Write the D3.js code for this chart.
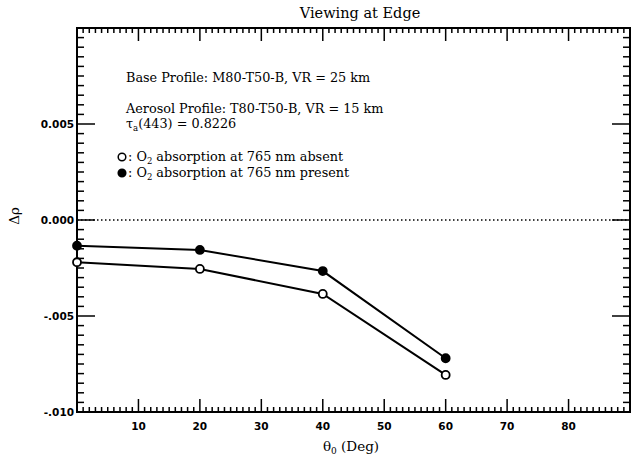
<!DOCTYPE html>
<html>
<head>
<meta charset="utf-8">
<script src="https://cdn.jsdelivr.net/npm/d3@7/dist/d3.min.js"></script>
<style>
  html, body { margin: 0; padding: 0; background: #fff; }
  svg { display: block; }
  text { font-family: "DejaVu Serif", "Liberation Serif", serif; fill: #000; }
  .tick-label { font-family: "DejaVu Sans", sans-serif; font-weight: bold; }
</style>
</head>
<body>
<svg id="chart" width="638" height="466"></svg>
<script>
// Solar zenith angle (deg)
const angles = [0, 20, 40, 60];
// Δρ without O2 absorption at 765 nm (open circles)
const absentValues = [-0.0022, -0.00255, -0.00385, -0.00807];
// Δρ with O2 absorption at 765 nm (filled circles)
const presentValues = [-0.00134, -0.00156, -0.00266, -0.0072];

const xTickValues = [10, 20, 30, 40, 50, 60, 70, 80];
const yTickValues = [0.005, 0, -0.005, -0.010];
const yTickLabels = ["0.005", "0.000", "-.005", "-.010"];

const titleText = "Viewing at Edge";
const noteLines = [
  "Base Profile: M80-T50-B, VR = 25 km",
  "Aerosol Profile: T80-T50-B, VR = 15 km"
];

const svg = d3.select("#chart");
const m = { left: 77, right: 630, top: 28, bottom: 412 };

const x = d3.scaleLinear().domain([0, 90]).range([m.left, m.right]);
const y = d3.scaleLinear().domain([-0.01, 0.01]).range([m.bottom, m.top]);

// inward ticks on all four sides
const xMinor = d3.range(1, 90).filter(d => d % 10 !== 0);
const xMajor = d3.range(10, 90, 10);
const yMinor = d3.range(-19, 20).filter(k => k % 10 !== 0).map(k => k * 0.0005);
const yMajor = [-0.005, 0, 0.005];

const ticks = svg.append("g").attr("stroke", "#000").attr("stroke-width", 1.5);
function hTicks(vals, len) {
  vals.forEach(v => {
    ticks.append("line").attr("x1", x(v)).attr("x2", x(v)).attr("y1", m.bottom).attr("y2", m.bottom - len);
    ticks.append("line").attr("x1", x(v)).attr("x2", x(v)).attr("y1", m.top).attr("y2", m.top + len);
  });
}
function vTicks(vals, len) {
  vals.forEach(v => {
    ticks.append("line").attr("y1", y(v)).attr("y2", y(v)).attr("x1", m.left).attr("x2", m.left + len);
    ticks.append("line").attr("y1", y(v)).attr("y2", y(v)).attr("x1", m.right).attr("x2", m.right - len);
  });
}
hTicks(xMinor, 5);
hTicks(xMajor, 13);
vTicks(yMinor, 7);
vTicks(yMajor, 18);

// frame
svg.append("rect")
  .attr("x", m.left).attr("y", m.top)
  .attr("width", m.right - m.left).attr("height", m.bottom - m.top)
  .attr("fill", "none").attr("stroke", "#000").attr("stroke-width", 2);

// zero reference line
svg.append("line")
  .attr("x1", m.left).attr("x2", m.right)
  .attr("y1", y(0)).attr("y2", y(0))
  .attr("stroke", "#000").attr("stroke-width", 1.3)
  .attr("stroke-dasharray", "1.5,2.5");

// tick labels
svg.append("g").selectAll("text").data(xTickValues).join("text")
  .attr("class", "tick-label")
  .attr("x", d => x(d)).attr("y", 430)
  .attr("text-anchor", "middle")
  .attr("font-size", 10.5)
  .text(d => d);

svg.append("g").selectAll("text").data(yTickValues).join("text")
  .attr("class", "tick-label")
  .attr("x", 74).attr("y", d => y(d) + 4)
  .attr("text-anchor", "end")
  .attr("font-size", 10.5)
  .text((d, i) => yTickLabels[i]);

// axis titles
const xt = svg.append("text").attr("x", 351).attr("y", 451)
  .attr("text-anchor", "middle").attr("font-size", 13.5);
xt.append("tspan").text("θ");
xt.append("tspan").attr("font-size", 9).attr("dy", 3).text("0");
xt.append("tspan").attr("dy", -3).text(" (Deg)");

svg.append("text")
  .attr("transform", "translate(19,216) rotate(-90)")
  .attr("text-anchor", "middle").attr("font-size", 13.5)
  .text("Δρ");

svg.append("text").attr("x", 360).attr("y", 18)
  .attr("text-anchor", "middle").attr("font-size", 14.5)
  .text(titleText);

// annotation block
const notes = svg.append("g").attr("font-size", 12.8);
notes.append("text").attr("x", 126).attr("y", 82).text(noteLines[0]);
notes.append("text").attr("x", 126).attr("y", 113).text(noteLines[1]);
const tau = notes.append("text").attr("x", 126).attr("y", 128);
tau.append("tspan").text("τ");
tau.append("tspan").attr("font-size", 8.5).attr("dy", 3).text("a");
tau.append("tspan").attr("dy", -3).text("(443) = 0.8226");

function legendRow(yy, filled, word) {
  notes.append("circle").attr("cx", 122).attr("cy", yy - 4).attr("r", 3.8)
    .attr("fill", filled ? "#000" : "#fff").attr("stroke", "#000").attr("stroke-width", 1.5);
  const t = notes.append("text").attr("x", 128).attr("y", yy);
  t.append("tspan").text(": O");
  t.append("tspan").attr("font-size", 8.5).attr("dy", 3).text("2");
  t.append("tspan").attr("dy", -3).text(" absorption at 765 nm " + word);
}
legendRow(161, false, "absent");
legendRow(177, true, "present");

// data series
const line = d3.line().x((d, i) => x(angles[i])).y(d => y(d));
[[absentValues, false], [presentValues, true]].forEach(([vals, filled]) => {
  svg.append("path").datum(vals).attr("d", line)
    .attr("fill", "none").attr("stroke", "#000").attr("stroke-width", 2);
  svg.append("g").selectAll("circle").data(vals).join("circle")
    .attr("cx", (d, i) => x(angles[i])).attr("cy", d => y(d)).attr("r", 4)
    .attr("fill", filled ? "#000" : "#fff").attr("stroke", "#000").attr("stroke-width", 1.8);
});
</script>
</body>
</html>
